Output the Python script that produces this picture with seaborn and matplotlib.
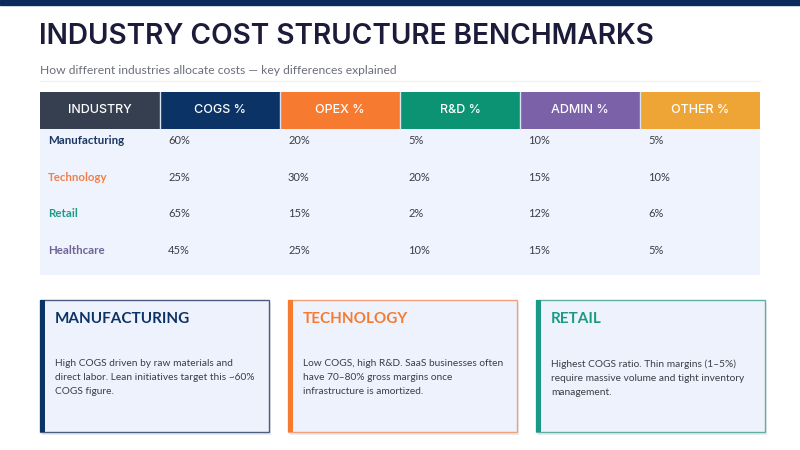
import pandas as pd
import seaborn as sns
from matplotlib import pyplot as plt
from matplotlib.colors import ListedColormap
from matplotlib.patches import Rectangle

industries = ['Manufacturing', 'Technology', 'Retail', 'Healthcare']
columns = ['INDUSTRY', 'COGS %', 'OPEX %', 'R&D %', 'ADMIN %', 'OTHER %']
cogs = [60, 25, 65, 45]
opex = [20, 30, 15, 25]
rnd = [5, 20, 2, 10]
admin = [10, 15, 12, 15]
other = [5, 10, 6, 5]

card_titles = ['MANUFACTURING', 'TECHNOLOGY', 'RETAIL']
card_texts = [
    'High COGS driven by raw materials and\ndirect labor. Lean initiatives target this ~60%\nCOGS figure.',
    'Low COGS, high R&D. SaaS businesses often\nhave 70\u201380% gross margins once\ninfrastructure is amortized.',
    'Highest COGS ratio. Thin margins (1\u20135%)\nrequire massive volume and tight inventory\nmanagement.',
]

header_colors = ['#363f4f', '#0c3366', '#f67b31', '#0b9373', '#7b62a8', '#efa535']
body_color = '#eef3fd'
ind_colors = ['#1b3663', '#f0814a', '#1f9a87', '#6f6398']
card_colors = ['#0c3366', '#f67b31', '#1a9a84']
card_edges = ['#4a5d80', '#f0a07a', '#5fb0a2']

sns.set_theme(style='white')
plt.rcParams['font.family'] = ['Lato', 'DejaVu Sans']

fig = plt.figure(figsize=(8, 4.5), dpi=100)
bg = fig.add_axes([0, 0, 1, 1])
bg.set_xlim(0, 800)
bg.set_ylim(450, 0)
bg.axis('off')

# top bar + titles
bg.add_patch(Rectangle((0, 0), 800, 5, color='#0b2a5b'))
bg.text(39, 36, 'INDUSTRY COST STRUCTURE BENCHMARKS', fontsize=20.2, fontweight='semibold',
        family='Inter', color='#1c1c3a', va='center', ha='left')
bg.text(40, 70, 'How different industries allocate costs \u2014 key differences explained',
        fontsize=8.7, color='#6b6f78', va='center', ha='left')
bg.plot([40, 760], [81, 81], color='#f1f2f5', lw=1)

# table as a heatmap
codes = [[0, 1, 2, 3, 4, 5]] + [[6] * 6 for _ in industries]
df = pd.DataFrame(codes, columns=columns)
tab = fig.add_axes([40 / 800, 1 - 275 / 450, 720 / 800, 183 / 450])
sns.heatmap(df, ax=tab, cmap=ListedColormap(header_colors + [body_color]),
            vmin=-0.5, vmax=6.5, cbar=False, linewidths=0)
tab.set_xticks([])
tab.set_yticks([])
tab.set_xlabel('')
tab.set_ylabel('')
for j in range(1, 6):
    tab.plot([j, j], [0, 1], color='#d9e2f0', lw=1)
for j, c in enumerate(columns):
    tab.text(j + 0.5, 0.5, c, color='white', fontsize=9, family='Inter',
             fontweight='medium', ha='center', va='center')
values = [cogs, opex, rnd, admin, other]
for i, name in enumerate(industries):
    y = i + 1 + 0.33
    tab.text(0.067, y, name, color=ind_colors[i], fontsize=8.3, fontweight='bold',
             ha='left', va='center')
    for j, col in enumerate(values):
        tab.text(j + 1 + 0.067, y, f'{col[i]}%', color='#3a3d44', fontsize=8,
                 ha='left', va='center')

# cards
card_x = [40, 288, 536]
for k in range(3):
    x0, w, y0, h = card_x[k], 229, 300, 132
    bg.add_patch(Rectangle((x0 + 2, y0 + 3), w, h, color='#dcdfe6', alpha=0.6, lw=0))
    bg.add_patch(Rectangle((x0, y0), w, h, facecolor='#eef2fc',
                           edgecolor=card_edges[k], lw=1))
    bg.add_patch(Rectangle((x0, y0), 5, h, color=card_colors[k], lw=0))
    bg.text(x0 + 15, 319, card_titles[k], color=card_colors[k], fontsize=11,
            fontweight='bold', ha='left', va='center')
    bg.text(x0 + 15, 359, card_texts[k], color='#3a3d44', fontsize=7.3,
            ha='left', va='top', linespacing=1.75)

fig.savefig('out.png', dpi=100)
